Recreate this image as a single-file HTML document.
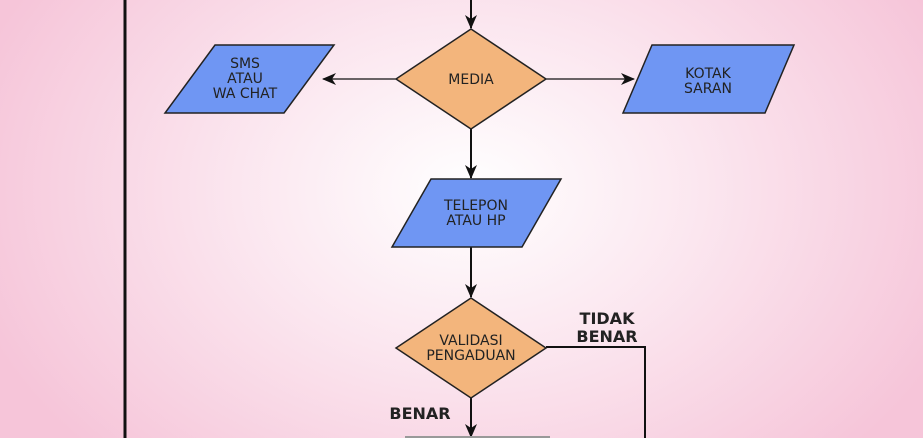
<!DOCTYPE html>
<html><head><style>
body{margin:0;width:923px;height:438px;overflow:hidden;background:radial-gradient(ellipse 520px 380px at 470px 190px,#fff 0%,#fbe6ef 45%,#f6c5d9 100%);}
svg{position:absolute;left:0;top:0}
text{font-family:"DejaVu Sans","Liberation Sans",sans-serif;fill:#222;text-anchor:middle}
</style></head><body>
<svg width="923" height="438" viewBox="0 0 923 438">
<defs><marker id="a" markerWidth="14" markerHeight="14" refX="13" refY="7" orient="auto" markerUnits="userSpaceOnUse"><path d="M0,1 L14,7 L0,13 L4,7z" fill="#111"/></marker></defs>
<line x1="125" y1="0" x2="125" y2="438" stroke="#111" stroke-width="3"/>
<g stroke="#111" stroke-width="2" fill="none">
<line x1="471" y1="0" x2="471" y2="28" marker-end="url(#a)"/>
<line x1="396" y1="79" x2="323" y2="79" stroke-width="1.3" marker-end="url(#a)"/>
<line x1="546" y1="79" x2="634" y2="79" stroke-width="1.3" marker-end="url(#a)"/>
<line x1="471" y1="129" x2="471" y2="178" marker-end="url(#a)"/>
<line x1="471" y1="247" x2="471" y2="297" marker-end="url(#a)"/>
<line x1="471" y1="398" x2="471" y2="437" marker-end="url(#a)"/>
<polyline points="546,347 645,347 645,438"/>
</g>
<g stroke="#222" stroke-width="1.5">
<polygon points="471,29 546,79 471,129 396,79" fill="#f3b57c"/>
<polygon points="471,298 546,348 471,398 396,348" fill="#f3b57c"/>
<polygon points="215,45 334,45 284,113 165,113" fill="#6f96f3"/>
<polygon points="652,45 794,45 765,113 623,113" fill="#6f96f3"/>
<polygon points="431,179 561,179 522,247 392,247" fill="#6f96f3"/>
</g>
<line x1="405" y1="437" x2="550" y2="437" stroke="#999" stroke-width="2"/>
<g font-size="14">
<text x="471" y="84">MEDIA</text>
<text x="245" y="68">SMS</text><text x="245" y="83">ATAU</text><text x="245" y="98">WA CHAT</text>
<text x="708" y="78">KOTAK</text><text x="708" y="93">SARAN</text>
<text x="476" y="210">TELEPON</text><text x="476" y="225">ATAU HP</text>
<text x="471" y="345">VALIDASI</text><text x="471" y="360">PENGADUAN</text>
</g>
<g font-size="16" font-weight="bold">
<text x="607" y="324">TIDAK</text><text x="607" y="342">BENAR</text>
<text x="420" y="419">BENAR</text>
</g>
</svg>
</body></html>
